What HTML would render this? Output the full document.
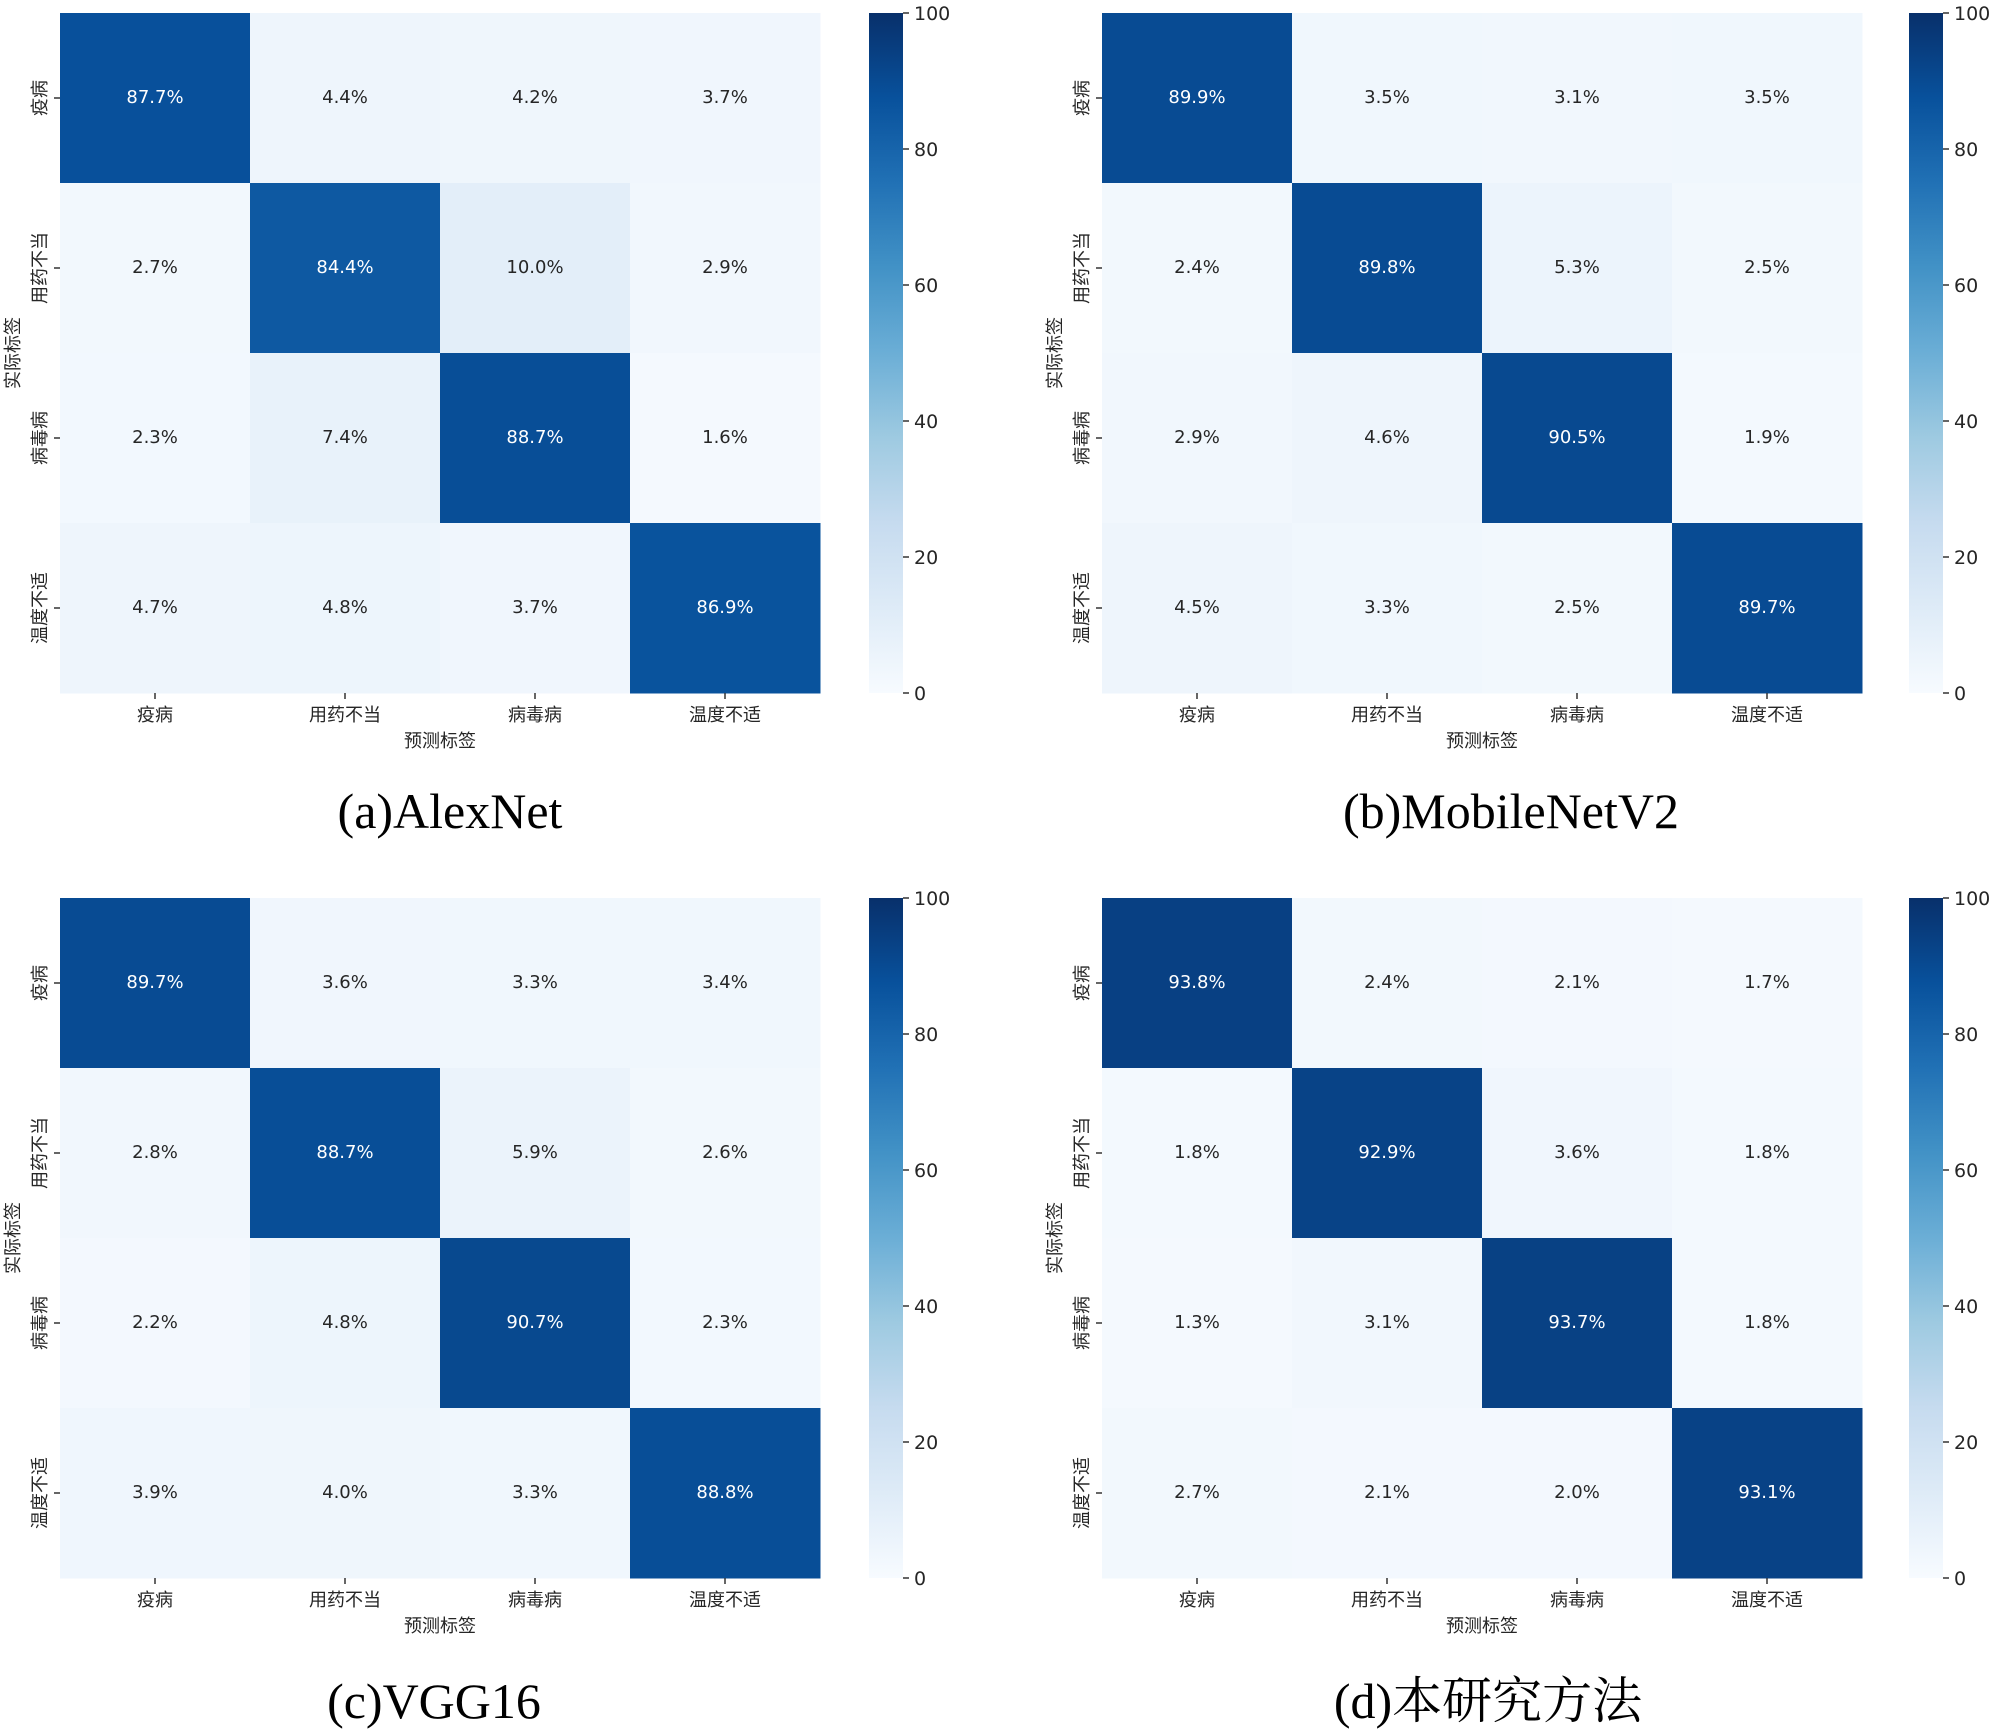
<!DOCTYPE html>
<html><head><meta charset="utf-8">
<style>
html,body{margin:0;padding:0;background:#fff;}
svg{display:block;}
text{font-family:"DejaVu Sans","Noto Sans CJK SC",sans-serif;}
.title{font-family:"Liberation Serif","Noto Serif CJK SC",serif;}
</style></head>
<body>
<svg id="fig" width="2000" height="1736" viewBox="0 0 2000 1736" xmlns="http://www.w3.org/2000/svg">
<defs>
<linearGradient id="blues" x1="0" y1="1" x2="0" y2="0">
<stop offset="0" stop-color="#f7fbff"/><stop offset="0.125" stop-color="#deebf7"/>
<stop offset="0.25" stop-color="#c6dbef"/><stop offset="0.375" stop-color="#9ecae1"/>
<stop offset="0.5" stop-color="#6baed6"/><stop offset="0.625" stop-color="#4292c6"/>
<stop offset="0.75" stop-color="#2171b5"/><stop offset="0.875" stop-color="#08519c"/>
<stop offset="1" stop-color="#08306b"/>
</linearGradient>
</defs>
</svg>
<script>
const categories = ["疫病","用药不当","病毒病","温度不适"];
const panelTitles = ["(a)AlexNet","(b)MobileNetV2","(c)VGG16","(d)本研究方法"];
const valuesA = [[87.7,4.4,4.2,3.7],[2.7,84.4,10.0,2.9],[2.3,7.4,88.7,1.6],[4.7,4.8,3.7,86.9]];
const valuesB = [[89.9,3.5,3.1,3.5],[2.4,89.8,5.3,2.5],[2.9,4.6,90.5,1.9],[4.5,3.3,2.5,89.7]];
const valuesC = [[89.7,3.6,3.3,3.4],[2.8,88.7,5.9,2.6],[2.2,4.8,90.7,2.3],[3.9,4.0,3.3,88.8]];
const valuesD = [[93.8,2.4,2.1,1.7],[1.8,92.9,3.6,1.8],[1.3,3.1,93.7,1.8],[2.7,2.1,2.0,93.1]];
const colorbarTicks = [0,20,40,60,80,100];

const stops=[[247,251,255],[222,235,247],[198,219,239],[158,202,225],[107,174,214],[66,146,198],[33,113,181],[8,81,156],[8,48,107]];
function blues(v){let t=Math.max(0,Math.min(1,v/100))*8;let i=Math.min(7,Math.floor(t));let f=t-i;
 const c=stops[i].map((a,k)=>Math.round(a+(stops[i+1][k]-a)*f));return `rgb(${c[0]},${c[1]},${c[2]})`;}
const NS="http://www.w3.org/2000/svg";
const svg=document.getElementById('fig');
function mk(tag,attrs,parent,txt){const e=document.createElementNS(NS,tag);for(const k in attrs)e.setAttribute(k,attrs[k]);if(txt!==undefined)e.textContent=txt;parent.appendChild(e);return e;}

const panels=[
 {vals:valuesA,x0:60,y0:13,cbx:869,tx:450,ty:828},
 {vals:valuesB,x0:1102,y0:13,cbx:1909,tx:1511,ty:828},
 {vals:valuesC,x0:60,y0:898,cbx:869,tx:434,ty:1718},
 {vals:valuesD,x0:1102,y0:898,cbx:1909,tx:1488,ty:1718}
];
const W=760,H=680,n=categories.length;
panels.forEach((p,pi)=>{
 const g=mk('g',{},svg);
 
 
 const xs=i=>p.x0+i*W/n, ys=j=>p.y0+j*H/n;
 p.vals.forEach((row,r)=>row.forEach((v,c)=>{
  const rc=mk('rect',{x:xs(c),y:ys(r),width:W/n+0.5,height:H/n+0.5,fill:blues(v)},g);
  
  
  const t=mk('text',{x:xs(c)+W/n/2,y:ys(r)+H/n/2+5,'text-anchor':'middle','font-size':18,fill:v>50?'#ffffff':'#262626'},g,v.toFixed(1)+'%');
  
  
 }));
 categories.forEach((cat,i)=>{
  const cx=xs(i)+W/n/2, cy=ys(i)+H/n/2;
  mk('line',{x1:cx,y1:p.y0+H,x2:cx,y2:p.y0+H+6,stroke:'#333','stroke-width':1.5},g);
  const xl=mk('text',{x:cx,y:p.y0+H+28,'text-anchor':'middle','font-size':18,fill:'#262626'},g,cat);
  
  
  mk('line',{x1:p.x0-6,y1:cy,x2:p.x0,y2:cy,stroke:'#333','stroke-width':1.5},g);
  const yl=mk('text',{x:0,y:0,'text-anchor':'middle','font-size':18,fill:'#262626',transform:`translate(${p.x0-14},${cy}) rotate(-90)`},g,cat);
  
  
 });
 const xt=mk('text',{x:p.x0+W/2,y:p.y0+H+54,'text-anchor':'middle','font-size':18,fill:'#262626'},g,'预测标签');
 
 
 const yt=mk('text',{x:0,y:0,'text-anchor':'middle','font-size':18,fill:'#262626',transform:`translate(${p.x0-41},${p.y0+H/2}) rotate(-90)`},g,'实际标签');
 
 
 const cb=mk('rect',{x:p.cbx,y:p.y0,width:34,height:H,fill:'url(#blues)'},g);
 
 
 colorbarTicks.forEach(tv=>{
  const y=p.y0+H-tv/100*H;
  mk('line',{x1:p.cbx+34,y1:y,x2:p.cbx+40,y2:y,stroke:'#333','stroke-width':1.5},g);
  const tl=mk('text',{x:p.cbx+45,y:y+7,'font-size':19,fill:'#262626'},g,String(tv));
  
  
 });
 const ti=mk('text',{x:p.tx,y:p.ty,'text-anchor':'middle','font-size':50,fill:'#000',class:'title'},g,panelTitles[pi]);
 
 
});
</script>
</body></html>
